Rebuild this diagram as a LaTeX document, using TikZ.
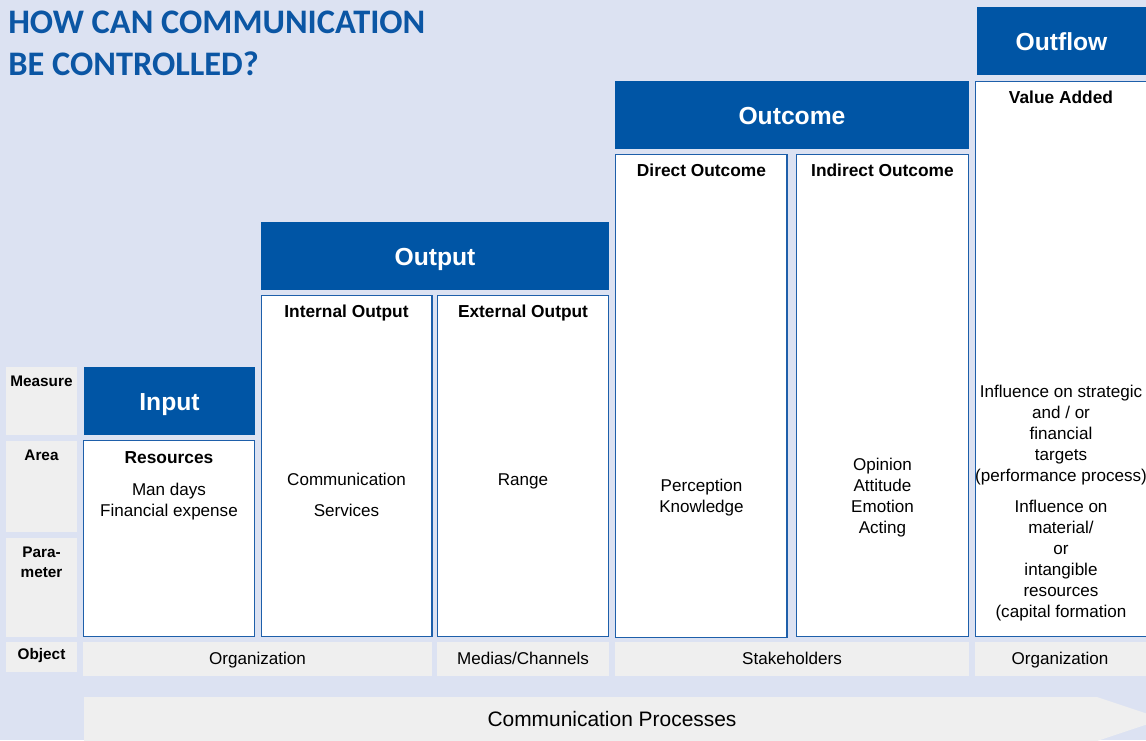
\documentclass[tikz,border=0pt]{standalone}
\usepackage{fontspec}
\setmainfont{Liberation Sans}
\newfontfamily\titlefont{Carlito}
\definecolor{bg}{HTML}{DCE2F2}
\definecolor{hdr}{HTML}{0055A5}
\definecolor{cell}{HTML}{EFEFEF}
\definecolor{edge}{HTML}{1E5FAA}
\definecolor{ttl}{HTML}{0B56A4}
\begin{document}
\begin{tikzpicture}[x=0.75pt,y=-0.75pt,
  hdrtext/.style={text=white,font=\fontsize{18.5}{22}\selectfont\bfseries,inner sep=0pt,text height=0.72em,text depth=0pt},
  subhead/.style={font=\fontsize{13}{15.75}\selectfont\bfseries,inner sep=0pt,text height=0.72em,text depth=0pt},
  body/.style={font=\fontsize{12.8}{15.75}\selectfont,align=center,inner sep=0pt},
  single/.style={body,text height=0.72em,text depth=0pt},
  lbl/.style={font=\fontsize{11.5}{15}\selectfont\bfseries,align=center,inner sep=0pt},
  boxline/.style={draw=edge,line width=1.2pt,fill=white},
  graycell/.style={fill=cell},
  bluecell/.style={fill=hdr}]
\useasboundingbox (0,0) rectangle (1146,740);
\fill[bg] (0,0) rectangle (1146,740);

% title
\node[anchor=base west,text=ttl,font=\titlefont\fontsize{25.8}{31.5}\selectfont\bfseries,inner sep=0pt] (t1) at (8,33) {HOW CAN COMMUNICATION};
\node[anchor=base west,text=ttl,font=\titlefont\fontsize{25.8}{31.5}\selectfont\bfseries,inner sep=0pt] (t2) at (8,75) {BE CONTROLLED?};

% left labels
\fill[graycell] (6,367) rectangle (77,435);
\fill[graycell] (6,441) rectangle (77,532);
\fill[graycell] (6,538) rectangle (77,637);
\fill[graycell] (6,642) rectangle (77,672);
\node[lbl] (lmeasure) at (41.5,381) {Measure};
\node[lbl] (larea) at (41.5,455) {Area};
\node[lbl] (lparam) at (41.5,562) {Para-\\meter};
\node[lbl] (lobject) at (41.5,656) {Object};

% blue headers
\fill[bluecell] (84,367) rectangle (255,435);
\fill[bluecell] (261,222) rectangle (609,290);
\fill[bluecell] (615,81) rectangle (969,149);
\fill[bluecell] (977,7) rectangle (1146,75);
\node[hdrtext] (input) at (169.5,405.5) {Input};
\node[hdrtext] (output) at (435,260.5) {Output};
\node[hdrtext] (outcome) at (792,119.5) {Outcome};
\node[hdrtext] (outflow) at (1061.5,45.5) {Outflow};

% white boxes
\path[boxline] (83.5,440.5) rectangle (254.5,636.5);
\path[boxline] (261.5,295.5) rectangle (432,636.5);
\path[boxline] (437.5,295.5) rectangle (608.5,636.5);
\path[boxline] (615.5,154.5) rectangle (787,637.5);
\path[boxline] (796.5,154.5) rectangle (968.5,636.5);
\path[boxline] (975.5,81.5) rectangle (1150,636.5);

% box texts
\node[subhead] (res) at (169,459) {Resources};
\node[body] (resb) at (169,501.5) {Man days\\Financial expense};
\node[subhead] (intout) at (346.5,313) {Internal Output};
\node[single] (intb1) at (346.5,481) {Communication};
\node[single] (intb2) at (346.5,512) {Services};
\node[subhead] (extout) at (523,313) {External Output};
\node[single] (extb) at (523,481) {Range};
\node[subhead] (dirout) at (701.5,172) {Direct Outcome};
\node[body] (dirb) at (701.5,497.5) {Perception\\Knowledge};
\node[subhead] (indout) at (882.5,172) {Indirect Outcome};
\node[body] (indb) at (882.5,497.5) {Opinion\\Attitude\\Emotion\\Acting};
\node[subhead] (valadd) at (1061,99) {Value Added};
\node[body] (valb1) at (1061,435) {Influence on strategic\\and / or\\financial\\targets\\(performance process)};
\node[body] (valb2) at (1061,560.5) {Influence on\\material/\\or\\intangible\\resources\\(capital formation};

% object row
\fill[graycell] (83,642) rectangle (432,676);
\fill[graycell] (437,642) rectangle (609,676);
\fill[graycell] (615,642) rectangle (969,676);
\fill[graycell] (975,642) rectangle (1146,676);
\node[single] (org1) at (257.5,659.5) {Organization};
\node[single] (med) at (523,659.5) {Medias/Channels};
\node[single] (stk) at (792,659.5) {Stakeholders};
\node[single] (org2) at (1060,659.5) {Organization};

% process arrow
\fill[graycell] (84,697) -- (1097,697) -- (1163,719) -- (1097,741) -- (84,741) -- cycle;
\node[single,font=\fontsize{15.7}{18}\selectfont] (proc) at (612,722) {Communication Processes};
\end{tikzpicture}
\end{document}
